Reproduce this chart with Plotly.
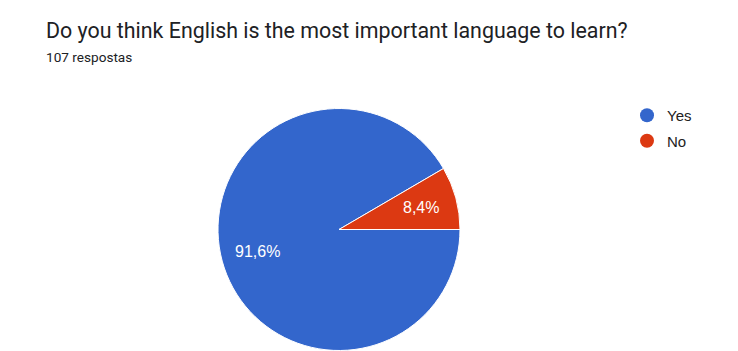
import math
import plotly.graph_objects as go

# Survey answers (count of responses)
labels = ["Yes", "No"]
counts = [98, 9]
colors = ["#3366CC", "#DC3912"]
total_label = "107 respostas"
title_text = "Do you think English is the most important language to learn?"

W, H = 738, 351
cx, cy, r = 339, 229.5, 121  # pie centre and radius in pixels

fig = go.Figure()

# Yes runs counterclockwise from the slice boundary at 3 o'clock,
# leaving No as the wedge just above the horizontal
fig.add_trace(go.Pie(
    labels=labels,
    values=counts,
    sort=False,
    direction="counterclockwise",
    rotation=90,
    marker=dict(colors=colors, line=dict(color="white", width=1)),
    textinfo="none",
    hoverinfo="label+value+percent",
    showlegend=False,
    domain=dict(x=[(cx - r) / W, (cx + r) / W],
                y=[(H - cy - r) / H, (H - cy + r) / H]),
))

# Percentage labels at 70% of the radius, along each slice's mid-angle
total = sum(counts)
annotations = []
start = 360 * counts[1] / total  # Yes starts where No ends
angles = []
a = start
for v in counts:
    span = 360 * v / total
    angles.append(a + span / 2)
    a += span
for v, mid in zip(counts, angles):
    px = cx + 0.7 * r * math.cos(math.radians(mid))
    py = cy - 0.7 * r * math.sin(math.radians(mid))
    pct = f"{100 * v / total:.1f}".replace(".", ",") + "%"
    annotations.append(dict(
        text=pct, x=px / W, y=1 - py / H, xref="paper", yref="paper",
        xanchor="center", yanchor="middle", showarrow=False,
        font=dict(size=16, color="white", family="Liberation Sans, Arial"),
    ))

# Round legend markers
for lab, col in zip(labels, colors):
    fig.add_trace(go.Scatter(
        x=[None], y=[None], mode="markers", name=lab, legendgroup=lab,
        marker=dict(symbol="circle", size=14, color=col),
    ))

annotations += [
    dict(text=title_text, x=44 / W, y=1 - 30 / H, xref="paper", yref="paper",
         xanchor="left", yanchor="middle", showarrow=False,
         font=dict(size=21.4, color="#202124", family="Roboto")),
    dict(text=total_label, x=44 / W, y=1 - 57 / H, xref="paper", yref="paper",
         xanchor="left", yanchor="middle", showarrow=False,
         font=dict(size=13.6, color="#202124", family="Roboto")),
]

fig.update_layout(
    width=W, height=H,
    margin=dict(l=0, r=0, t=0, b=0),
    paper_bgcolor="white",
    plot_bgcolor="white",
    font=dict(family="Roboto", color="#202124"),
    xaxis=dict(visible=False),
    yaxis=dict(visible=False),
    legend=dict(
        x=627 / W, y=1 - 99 / H, xanchor="left", yanchor="top",
        font=dict(size=15, color="#212121", family="Liberation Sans, Arial"),
        itemwidth=30, tracegroupgap=3,
        bgcolor="rgba(0,0,0,0)",
    ),
    annotations=annotations,
)

fig.write_html("out.html")
